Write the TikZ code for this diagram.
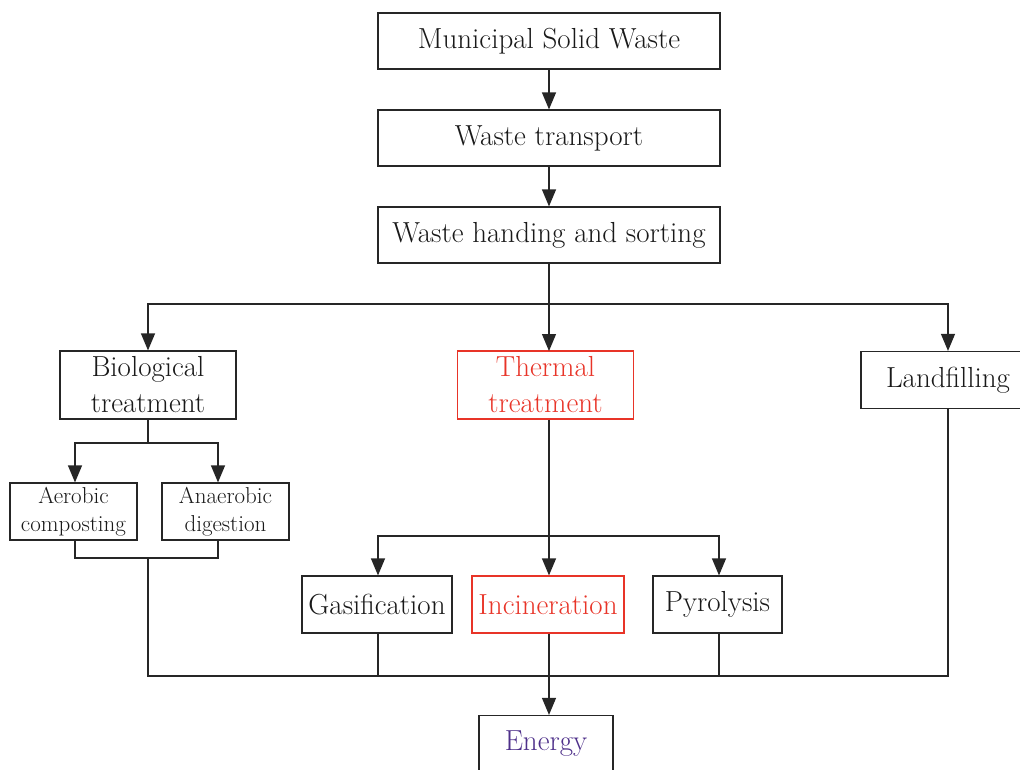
\documentclass[tikz,border=0pt]{standalone}
\usetikzlibrary{arrows.meta}
\definecolor{thermred}{RGB}{232,52,40}
\definecolor{energyviolet}{RGB}{78,48,138}
\begin{document}
\begin{tikzpicture}[
      x=1pt, y=1pt,
      stage/.style={draw=black!85, line width=1.2pt, align=center, inner sep=0pt,
                    font=\fontsize{29}{36}\selectfont, text=black!90},
      wide/.style={stage, minimum width=342pt, minimum height=56pt},
      mid/.style={stage, minimum width=176pt, minimum height=68pt},
      proc/.style={stage, minimum height=57pt},
      small/.style={stage, minimum width=127pt, minimum height=57pt,
                    font=\fontsize{23}{28}\selectfont},
      hot/.style={draw=thermred, text=thermred},
      link/.style={line width=1.2pt, draw=black!85},
      arr/.style={link, -{Triangle[length=17pt,width=14pt]}}
    ]
      \useasboundingbox (0,0) rectangle (1020,-769);
      % main line
      \node[wide] (msw)   at (549,-41)  {Municipal Solid Waste};
      \node[wide] (trans) at (549,-138) {Waste transport};
      \node[wide] (sort)  at (549,-235) {Waste handing and sorting};
      % treatments
      \node[mid] (bio)   at (148,-385)   {Biological\\treatment};
      \node[mid,hot] (therm) at (545.5,-385) {Thermal\\treatment};
      \node[proc,minimum width=174pt] (land) at (948,-380) {Landfilling};
      % biological
      \node[small] (aer)   at (73.5,-511.5)  {Aerobic\\composting};
      \node[small] (anaer) at (225.5,-511.5) {Anaerobic\\digestion};
      % thermal
      \node[proc,minimum width=150pt] (gas) at (377,-604.5) {Gasification};
      \node[proc,minimum width=152pt,hot] (inc) at (548,-604.5) {Incineration};
      \node[proc,minimum width=129pt] (pyr) at (717.5,-604.5) {Pyrolysis};
      \node[proc,minimum width=134pt,text=energyviolet] (energy) at (546,-744) {Energy};
      % junctions
      \coordinate (splitA) at (549,-304);
      \coordinate (splitB) at (148,-443);
      \coordinate (splitC) at (549,-536);
      \coordinate (joinB)  at (148,-558);
      \coordinate (joinE)  at (148,-676);
      \coordinate (joinL)  at (948,-676);

      \draw[arr] (msw) -- (trans);
      \draw[arr] (trans) -- (sort);
      \draw[link] (sort) -- (splitA);
      \draw[arr] (splitA) -| (bio);
      \draw[arr] (splitA) -- (549,-351);
      \draw[arr] (splitA) -| (land);

      \draw[link] (bio) -- (splitB);
      \draw[arr] (splitB) -| ([xshift=1.5pt]aer.north);
      \draw[arr] (splitB) -| ([xshift=-7.5pt]anaer.north);
      \draw[link] ([xshift=1.5pt]aer.south) |- (joinB)
                  -| ([xshift=-7.5pt]anaer.south);
      \draw[link] (joinB) -- (joinE) -- (joinL) -- (land);

      \draw[link] ([xshift=3.5pt]therm.south) -- (splitC);
      \draw[arr] (splitC) -| ([xshift=1pt]gas.north);
      \draw[arr] (splitC) -- ([xshift=1pt]inc.north);
      \draw[arr] (splitC) -| ([xshift=1.5pt]pyr.north);
      \draw[link] ([xshift=1pt]gas.south) -- ++(0,-43);
      \draw[link] ([xshift=1.5pt]pyr.south) -- ++(0,-43);
      \draw[arr] ([xshift=1pt]inc.south) -- ([xshift=3pt]energy.north);
    \end{tikzpicture}
\end{document}
